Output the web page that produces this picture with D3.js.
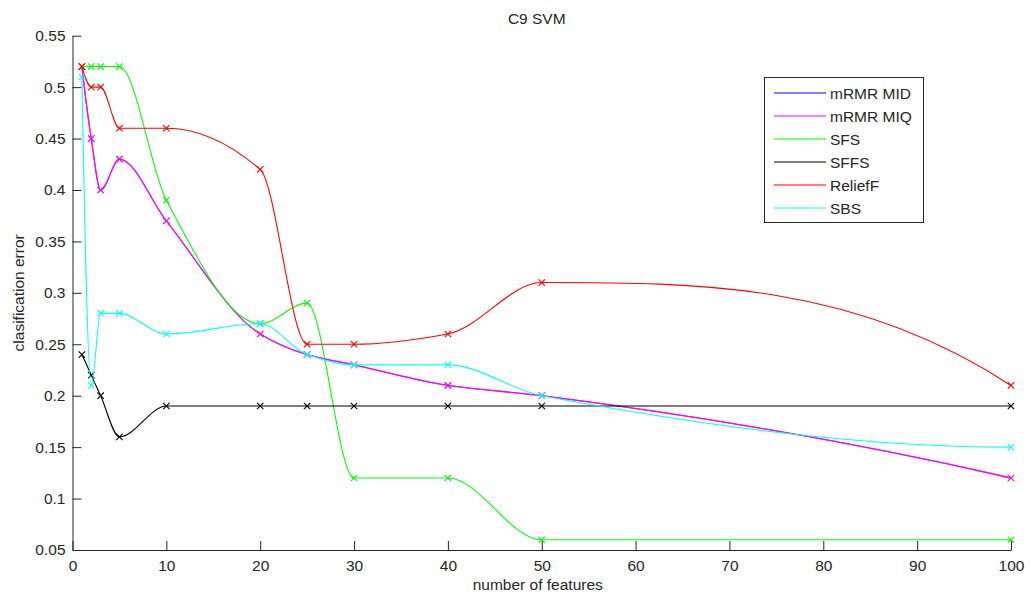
<!DOCTYPE html>
<html>
<head>
<meta charset="utf-8">
<script src="https://cdn.jsdelivr.net/npm/d3@7"></script>
<style>
  body { margin: 0; background: #fff; }
  text { font-family: "Liberation Sans", Arial, Helvetica, sans-serif; fill: #262626; }
</style>
</head>
<body>
<svg id="chart" width="1030" height="598"></svg>
<script>
// number of features where each method was evaluated
var features = [1, 2, 3, 5, 10, 20, 25, 30, 40, 50, 100];

// clasification error per method
var mrmrMID = [0.52, 0.45, 0.40, 0.43, 0.37, 0.26, 0.24, 0.23, 0.21, 0.20, 0.12];
var mrmrMIQ = [0.52, 0.45, 0.40, 0.43, 0.37, 0.26, 0.24, 0.23, 0.21, 0.20, 0.12];
var sfs     = [0.52, 0.52, 0.52, 0.52, 0.39, 0.27, 0.29, 0.12, 0.12, 0.06, 0.06];
var sffs    = [0.24, 0.22, 0.20, 0.16, 0.19, 0.19, 0.19, 0.19, 0.19, 0.19, 0.19];
var relief  = [0.52, 0.50, 0.50, 0.46, 0.46, 0.42, 0.25, 0.25, 0.26, 0.31, 0.21];
var sbs     = [0.51, 0.21, 0.28, 0.28, 0.26, 0.27, 0.24, 0.23, 0.23, 0.20, 0.15];

var seriesNames = ["mRMR MID", "mRMR MIQ", "SFS", "SFFS", "ReliefF", "SBS"];
var seriesColors = ["#0000ff", "#ff00ff", "#00ff00", "#000000", "#ff0000", "#00ffff"];
// MID sits exactly under MIQ, keep it thin so it stays hidden
var seriesWidths = [0.7, 1.3, 1.1, 1.1, 1.1, 1.1];

var xTicks = [0, 10, 20, 30, 40, 50, 60, 70, 80, 90, 100];
var yTicks = [0.05, 0.1, 0.15, 0.2, 0.25, 0.3, 0.35, 0.4, 0.45, 0.5, 0.55];

var allSeries = [mrmrMID, mrmrMIQ, sfs, sffs, relief, sbs];

var plot = { left: 72.5, right: 1011, top: 35.7, bottom: 550 };

// shape preserving (pchip style) curve, like matlab's interp1 'pchip'
function CurvePchip(context) { this._context = context; }
CurvePchip.prototype = {
    areaStart: function () { this._line = 0; },
    areaEnd: function () { this._line = NaN; },
    lineStart: function () { this._xs = []; this._ys = []; },
    point: function (px, py) { this._xs.push(+px); this._ys.push(+py); },
    lineEnd: function () {
        var xs = this._xs, ys = this._ys, n = xs.length, c = this._context;
        if (!n) return;
        c.moveTo(xs[0], ys[0]);
        if (n < 3) { for (var k = 1; k < n; k++) c.lineTo(xs[k], ys[k]); return; }
        var h = [], del = [], d = [];
        for (var i = 0; i < n - 1; i++) {
            h.push(xs[i + 1] - xs[i]);
            del.push((ys[i + 1] - ys[i]) / h[i]);
        }
        for (i = 1; i < n - 1; i++) {
            if (del[i - 1] * del[i] > 0) {
                var w1 = 2 * h[i] + h[i - 1], w2 = h[i] + 2 * h[i - 1];
                d[i] = (w1 + w2) / (w1 / del[i - 1] + w2 / del[i]);
            } else d[i] = 0;
        }
        function endSlope(h0, h1, d0, d1) {
            var s = ((2 * h0 + h1) * d0 - h0 * d1) / (h0 + h1);
            if (Math.sign(s) !== Math.sign(d0)) s = 0;
            else if (Math.sign(d0) !== Math.sign(d1) && Math.abs(s) > Math.abs(3 * d0)) s = 3 * d0;
            return s;
        }
        d[0] = endSlope(h[0], h[1], del[0], del[1]);
        d[n - 1] = endSlope(h[n - 2], h[n - 3], del[n - 2], del[n - 3]);
        for (i = 0; i < n - 1; i++) {
            var dx = h[i] / 3;
            c.bezierCurveTo(xs[i] + dx, ys[i] + d[i] * dx,
                            xs[i + 1] - dx, ys[i + 1] - d[i + 1] * dx,
                            xs[i + 1], ys[i + 1]);
        }
    }
};
function curvePchip(context) { return new CurvePchip(context); }

var svg = d3.select("#chart");

var x = d3.scaleLinear().domain([0, 100]).range([plot.left, plot.right]);
var y = d3.scaleLinear().domain([0.05, 0.55]).range([plot.bottom, plot.top]);

// axes, ticks pointing inward like matlab
var xAxis = d3.axisBottom(x).tickValues(xTicks).tickSizeInner(-9).tickSizeOuter(0).tickPadding(10)
    .tickFormat(d3.format("~g"));
var yAxis = d3.axisLeft(y).tickValues(yTicks).tickSizeInner(-9).tickSizeOuter(0).tickPadding(7)
    .tickFormat(d3.format("~g"));

var gx = svg.append("g").attr("transform", "translate(0," + plot.bottom + ")").call(xAxis);
var gy = svg.append("g").attr("transform", "translate(" + plot.left + ",0)").call(yAxis);

[gx, gy].forEach(function (g) {
    g.selectAll("text").style("font-size", "15.5px").attr("fill", "#262626");
    g.selectAll("line").attr("stroke", "#262626");
    g.select(".domain").attr("stroke", "#262626");
});

// curves
var line = d3.line()
    .x(function (d) { return x(d[0]); })
    .y(function (d) { return y(d[1]); })
    .curve(curvePchip);

allSeries.forEach(function (vals, i) {
    var pts = features.map(function (f, j) { return [f, vals[j]]; });
    var g = svg.append("g");
    g.append("path")
        .attr("d", line(pts))
        .attr("fill", "none")
        .attr("stroke", seriesColors[i])
        .attr("stroke-width", seriesWidths[i]);

    // x markers
    var s = 3.2;
    g.selectAll("path.mk").data(pts).enter().append("path")
        .attr("class", "mk")
        .attr("d", function (d) {
            var cx = x(d[0]), cy = y(d[1]);
            return "M" + (cx - s) + "," + (cy - s) + "L" + (cx + s) + "," + (cy + s) +
                   "M" + (cx - s) + "," + (cy + s) + "L" + (cx + s) + "," + (cy - s);
        })
        .attr("stroke", seriesColors[i])
        .attr("stroke-width", i === 0 ? 0.7 : 1.1);
});

// title + labels
svg.append("text").attr("x", (plot.left + plot.right) / 2 - 5).attr("y", 24)
    .attr("text-anchor", "middle").style("font-size", "15.5px").text("C9 SVM");

svg.append("text").attr("x", (plot.left + plot.right) / 2 - 4).attr("y", 590)
    .attr("text-anchor", "middle").style("font-size", "15.5px").text("number of features");

svg.append("text")
    .attr("transform", "translate(24," + ((plot.top + plot.bottom) / 2) + ") rotate(-90)")
    .attr("text-anchor", "middle").style("font-size", "15.5px").text("clasification error");

// legend
var lg = svg.append("g");
lg.append("rect").attr("x", 764.5).attr("y", 77.5).attr("width", 159).attr("height", 145)
    .attr("fill", "#fff").attr("stroke", "#262626").attr("stroke-width", 1);

seriesNames.forEach(function (name, i) {
    var ly = 93 + i * 23;
    lg.append("line").attr("x1", 774).attr("x2", 826).attr("y1", ly).attr("y2", ly)
        .attr("stroke", seriesColors[i]).attr("stroke-width", 1.1);
    lg.append("text").attr("x", 830).attr("y", ly + 5.5).style("font-size", "15.5px").text(name);
});
</script>
</body>
</html>
